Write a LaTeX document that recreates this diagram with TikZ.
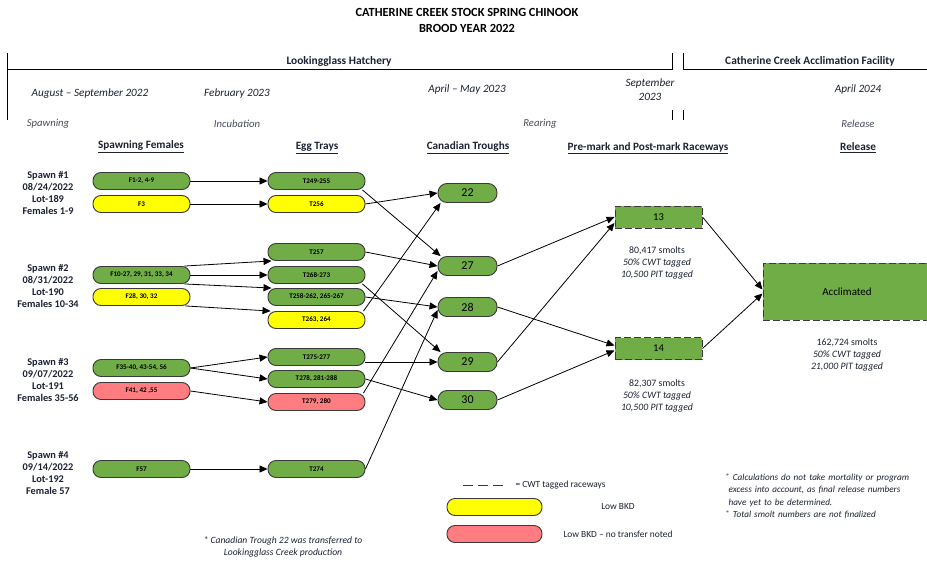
\documentclass[tikz,border=0pt]{standalone}
\usepackage{fontspec}
\setmainfont{Carlito}
\usetikzlibrary{arrows.meta,calc}
\definecolor{gr}{HTML}{70AD47}
\definecolor{yl}{HTML}{FFFF00}
\definecolor{rd}{HTML}{FF7C80}
\definecolor{bd}{HTML}{3A3A3A}
\definecolor{tx}{HTML}{1C2233}
\begin{document}
\begin{tikzpicture}[x=1pt,y=-1pt,
  pill/.style={draw=bd, line width=0.9pt, rounded corners=8pt, minimum width=97pt, minimum height=17pt, inner sep=0pt, font=\fontsize{7.1}{8}\selectfont\bfseries, text=black},
  trough/.style={draw=bd, line width=0.9pt, fill=gr, rounded corners=9pt, minimum width=59pt, minimum height=19pt, inner sep=0pt, font=\fontsize{12}{13}\selectfont, text=black},
  race/.style={draw=bd, line width=1pt, fill=gr, dash pattern=on 7pt off 3pt, minimum width=87pt, minimum height=22pt, inner sep=0pt, font=\fontsize{10.5}{12}\selectfont, text=black},
  arr/.style={-{Triangle[length=8pt,width=7pt]}, line width=0.8pt, draw=black},
  spawn/.style={align=center, font=\fontsize{10.3}{12.2}\selectfont\bfseries, text=tx},
  date/.style={font=\fontsize{11.2}{14}\selectfont\itshape, text=tx, align=center},
  phase/.style={font=\fontsize{10.7}{12}\selectfont\itshape, text=tx!80},
  head/.style={font=\fontsize{11.2}{13}\selectfont\bfseries, text=tx},
  note/.style={font=\fontsize{9.8}{12}\selectfont, text=tx, align=center},
  foot/.style={font=\fontsize{9.6}{12.5}\selectfont\itshape, text=tx, align=left},
  leg/.style={font=\fontsize{9.4}{10}\selectfont, text=tx}
]
\useasboundingbox (0,0) rectangle (927,565);
\fill[white] (0,0) rectangle (927,565);

% title
\node[font=\fontsize{12.4}{16}\selectfont\bfseries, align=center] (title) at (467,20) {CATHERINE CREEK STOCK SPRING CHINOOK\\BROOD YEAR 2022};

% timeline
\draw[line width=0.9pt] (7,53) -- (7,120);
\draw[line width=0.9pt] (7,69) -- (672,69);
\draw[line width=0.9pt] (672,53) -- (672,70);
\draw[line width=0.9pt] (683,53) -- (683,70);
\draw[line width=0.9pt] (683,69) -- (927,69);
\draw[line width=0.9pt] (672,110) -- (672,120);
\draw[line width=0.9pt] (683,110) -- (683,120);
\node[head, font=\fontsize{11.4}{13}\selectfont\bfseries] (lh) at (339,61) {Lookingglass Hatchery};
\node[head, font=\fontsize{11.4}{13}\selectfont\bfseries] (cc) at (810,61) {Catherine Creek Acclimation Facility};

\node[date] (d1) at (90,94) {August -- September 2022};
\node[date] (d2) at (237,94) {February 2023};
\node[date] (d3) at (467,90) {April -- May 2023};
\node[date] (d4) at (650,90) {September\\2023};
\node[date] (d5) at (858,90) {April 2024};

\node[phase] (p1) at (48,124) {Spawning};
\node[phase] (p2) at (237,124) {Incubation};
\node[phase] (p3) at (540,124) {Rearing};
\node[phase] (p4) at (858,124) {Release};

\node[head] (h1) at (141,147) {\underline{Spawning Females}};
\node[head] (h2) at (317,148) {\underline{Egg Trays}};
\node[head] (h3) at (468,148) {\underline{Canadian Troughs}};
\node[head] (h4) at (648,148) {\underline{Pre-mark and Post-mark Raceways}};
\node[head] (h5) at (858,148) {\underline{Release}};

% spawn labels
\node[spawn] (s1) at (48,193) {Spawn \#1\\08/24/2022\\Lot-189\\Females 1-9};
\node[spawn] (s2) at (48,286) {Spawn \#2\\08/31/2022\\Lot-190\\Females 10-34};
\node[spawn] (s3) at (48,380) {Spawn \#3\\09/07/2022\\Lot-191\\Females 35-56};
\node[spawn] (s4) at (48,473) {Spawn \#4\\09/14/2022\\Lot-192\\Female 57};

% females
\node[pill, fill=gr] (F1) at (141.5,181) {F1-2, 4-9};
\node[pill, fill=yl] (F3) at (141.5,204) {F3};
\node[pill, fill=gr] (F10) at (141.5,275) {F10-27, 29, 31, 33, 34};
\node[pill, fill=yl] (F28) at (141.5,297) {F28, 30, 32};
\node[pill, fill=gr] (F35) at (141.5,368) {F35-40, 43-54, 56};
\node[pill, fill=rd] (F41) at (141.5,391) {F41, 42 ,55};
\node[pill, fill=gr] (F57) at (141.5,469) {F57};

% trays
\node[pill, fill=gr] (T249) at (316.5,181) {T249-255};
\node[pill, fill=yl] (T256) at (316.5,204) {T256};
\node[pill, fill=gr] (T257) at (316.5,252) {T257};
\node[pill, fill=gr] (T268) at (316.5,275) {T268-273};
\node[pill, fill=gr] (T258) at (316.5,297) {T258-262, 265-267};
\node[pill, fill=yl] (T263) at (316.5,320) {T263, 264};
\node[pill, fill=gr] (T275) at (316.5,357) {T275-277};
\node[pill, fill=gr] (T278) at (316.5,379) {T278, 281-288};
\node[pill, fill=rd] (T279) at (316.5,402) {T279, 280};
\node[pill, fill=gr] (T274) at (316.5,469) {T274};

% troughs
\node[trough] (C22) at (467.5,193) {22};
\node[trough] (C27) at (467.5,266) {27};
\node[trough] (C28) at (467.5,307) {28};
\node[trough] (C29) at (467.5,362) {29};
\node[trough] (C30) at (467.5,400) {30};

% raceways
\node[race] (R13) at (658.5,217) {13};
\node[race] (R14) at (658.5,348.5) {14};
\node[race, minimum width=168pt, minimum height=57pt, font=\fontsize{11}{12}\selectfont] (ACC) at (847,291.5) {Acclimated};

% notes
\node[note] (n13) at (657,263) {80,417 smolts\\\textit{50\% CWT tagged}\\\textit{10,500 PIT tagged}};
\node[note] (n14) at (657,396) {82,307 smolts\\\textit{50\% CWT tagged}\\\textit{10,500 PIT tagged}};
\node[note] (nac) at (847,355) {162,724 smolts\\\textit{50\% CWT tagged}\\\textit{21,000 PIT tagged}};

% arrows females -> trays
\draw[arr] (F1.east) -- (T249.west);
\draw[arr] (F3.east) -- (T256.west);
\draw[arr] ([xshift=-6pt]F10.north east) -- ([xshift=4pt]T257.south west);
\draw[arr] (F10.east) -- (T268.west);
\draw[arr] ([xshift=-6pt]F10.south east) -- ([xshift=4pt]T258.north west);
\draw[arr] ([xshift=-5pt]F28.south east) -- ([xshift=3pt]T263.north west);
\draw[arr] (F35.east) -- (T275.west);
\draw[arr] (F35.east) -- (T278.west);
\draw[arr] (F41.east) -- (T279.west);
\draw[arr] (F57.east) -- (T274.west);

% trays -> troughs
\draw[arr] ([xshift=-3pt]T249.south east) -- ([xshift=3pt]C27.north west);
\draw[arr] (T256.east) -- (C22.west);
\draw[arr] (T257.east) -- (C27.west);
\draw[arr] ([xshift=-3pt]T268.south east) -- ([xshift=3pt]C29.north west);
\draw[arr] (T258.east) -- (C28.west);
\draw[arr] ([xshift=-2pt]T263.north east) -- ([xshift=3pt]C22.south west);
\draw[arr] (T275.east |- C29.west) -- (C29.west);
\draw[arr] (T278.east) -- (C30.west);
\draw[arr] ([xshift=-2pt]T279.north east) -- ([yshift=-5pt]C27.west);
\draw[arr] (T274.east) -- ([yshift=-3pt]C28.west);

% troughs -> raceways
\draw[arr] (C27.east) -- (R13.west);
\draw[arr] (C29.east) -- ([yshift=-6pt]R13.west);
\draw[arr] (C28.east) -- ([yshift=3pt]R14.west);
\draw[arr] (C30.east) -- ([yshift=-2pt]R14.west);
\draw[arr] (R13.east) -- ([yshift=2pt]ACC.west);
\draw[arr] (R14.east) -- ([yshift=-2pt]ACC.west);

% legend
\draw[line width=1pt, draw=bd, dash pattern=on 10pt off 5pt] (463,485) -- (503,485);
\node[leg, anchor=west] (lg1) at (512,485) {= CWT tagged raceways};
\node[pill, fill=yl, minimum width=95pt] (LY) at (494.5,507) {};
\node[pill, fill=rd, minimum width=95pt] (LR) at (494.5,534) {};
\node[leg] (lg2) at (618,507) {Low BKD};
\node[leg] (lg3) at (618,534) {Low BKD -- no transfer noted};

% footnotes
\node[foot, align=center] (fn1) at (283,547) {* Canadian Trough 22 was transferred to\\Lookingglass Creek production};
\node[foot, anchor=north west, text width=210pt, font=\fontsize{9.2}{12.5}\selectfont\itshape] (fn2) at (722,470) {$^*$ Calculations do not take mortality or program\\\hspace*{3pt}excess into account, as final release numbers\\\hspace*{3pt}have yet to be determined.\\$^*$ Total smolt numbers are not finalized};
\end{tikzpicture}
\end{document}
